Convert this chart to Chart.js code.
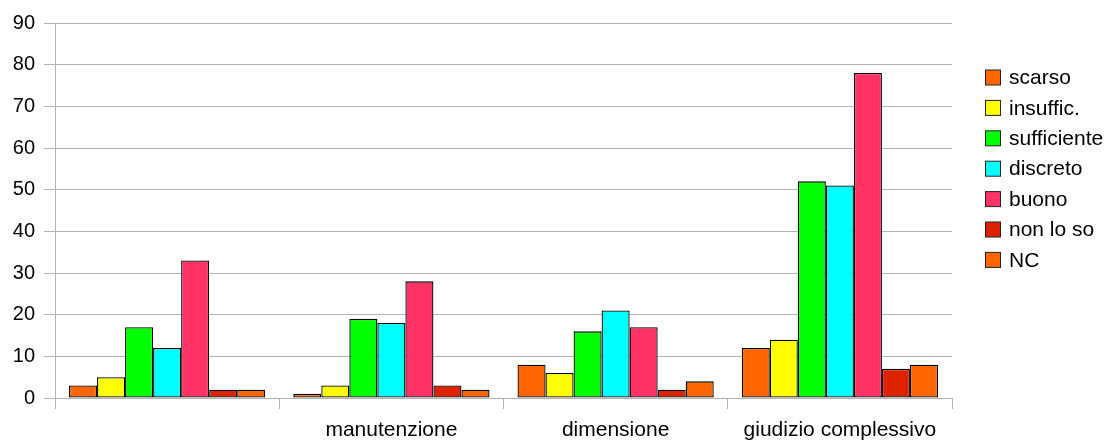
<!DOCTYPE html>
<html>
<head>
<meta charset="utf-8">
<script src="https://cdn.jsdelivr.net/npm/chart.js@4/dist/chart.umd.min.js"></script>
<style>
html,body{margin:0;padding:0;background:#fff;}
#wrap{position:relative;width:1106px;height:441px;}
</style>
</head>
<body>
<div id="wrap"><canvas id="c" width="1106" height="441"></canvas></div>
<script>
const categories = ["", "manutenzione", "dimensione", "giudizio complessivo"];
const seriesNames = ["scarso", "insuffic.", "sufficiente", "discreto", "buono", "non lo so", "NC"];
const scarso = [3, 1, 8, 12];
const insuffic = [5, 3, 6, 14];
const sufficiente = [17, 19, 16, 52];
const discreto = [12, 18, 21, 51];
const buono = [33, 28, 17, 78];
const nonLoSo = [2, 3, 2, 7];
const nc = [2, 2, 4, 8];
const yTicks = [0, 10, 20, 30, 40, 50, 60, 70, 80, 90];
const colors = ["#ff6600", "#ffff00", "#00ff00", "#00ffff", "#ff3366", "#dd2200", "#ff6600"];

const seriesValues = [scarso, insuffic, sufficiente, discreto, buono, nonLoSo, nc];
const FONT = "'Liberation Sans', Arial, sans-serif";
const GRID = "#b3b3b3";

const legendPlugin = {
  id: 'sideLegend',
  afterDraw(chart) {
    const ctx = chart.ctx;
    ctx.save();
    ctx.font = "21px " + FONT;
    ctx.textBaseline = 'middle';
    ctx.textAlign = 'left';
    chart.data.datasets.forEach((ds, i) => {
      const cy = 77.5 + i * 30.4;
      ctx.fillStyle = ds.backgroundColor;
      ctx.fillRect(985.5, cy - 7.5, 15, 15);
      ctx.strokeStyle = '#222';
      ctx.lineWidth = 1;
      ctx.strokeRect(985.5, cy - 7.5, 15, 15);
      ctx.fillStyle = '#000';
      ctx.fillText(ds.label, 1009, cy + 1);
    });
    ctx.restore();
  }
};

new Chart(document.getElementById('c'), {
  type: 'bar',
  data: {
    labels: categories,
    datasets: seriesNames.map((name, i) => ({
      label: name,
      data: seriesValues[i],
      backgroundColor: colors[i],
      borderColor: '#000',
      borderWidth: 1.3,
      borderSkipped: false,
      categoryPercentage: 0.875,
      barPercentage: 1
    }))
  },
  options: {
    responsive: false,
    animation: false,
    devicePixelRatio: 1,
    layout: { padding: { top: 23, right: 154, left: 0, bottom: 0 } },
    plugins: { legend: { display: false }, tooltip: { enabled: false } },
    scales: {
      x: {
        offset: true,
        grid: {
          offset: true,
          color: (c) => (c.index === 0 || c.index === categories.length) ? GRID : 'rgba(0,0,0,0)',
          tickColor: GRID,
          tickLength: 11,
          lineWidth: 1
        },
        border: { color: GRID },
        ticks: { color: '#000', font: { family: FONT, size: 21 }, padding: 9, maxRotation: 0, autoSkip: false },
        afterFit: (s) => { s.height = 43; }
      },
      y: {
        min: 0,
        max: 90,
        afterBuildTicks: (s) => { s.ticks = yTicks.map(v => ({ value: v })); },
        grid: { color: GRID, tickColor: GRID, tickLength: 11, lineWidth: 1 },
        border: { color: GRID },
        ticks: { color: '#000', font: { family: FONT, size: 20 }, padding: 9 },
        afterFit: (s) => { s.width = 55; }
      }
    }
  },
  plugins: [legendPlugin]
});
</script>
</body>
</html>
